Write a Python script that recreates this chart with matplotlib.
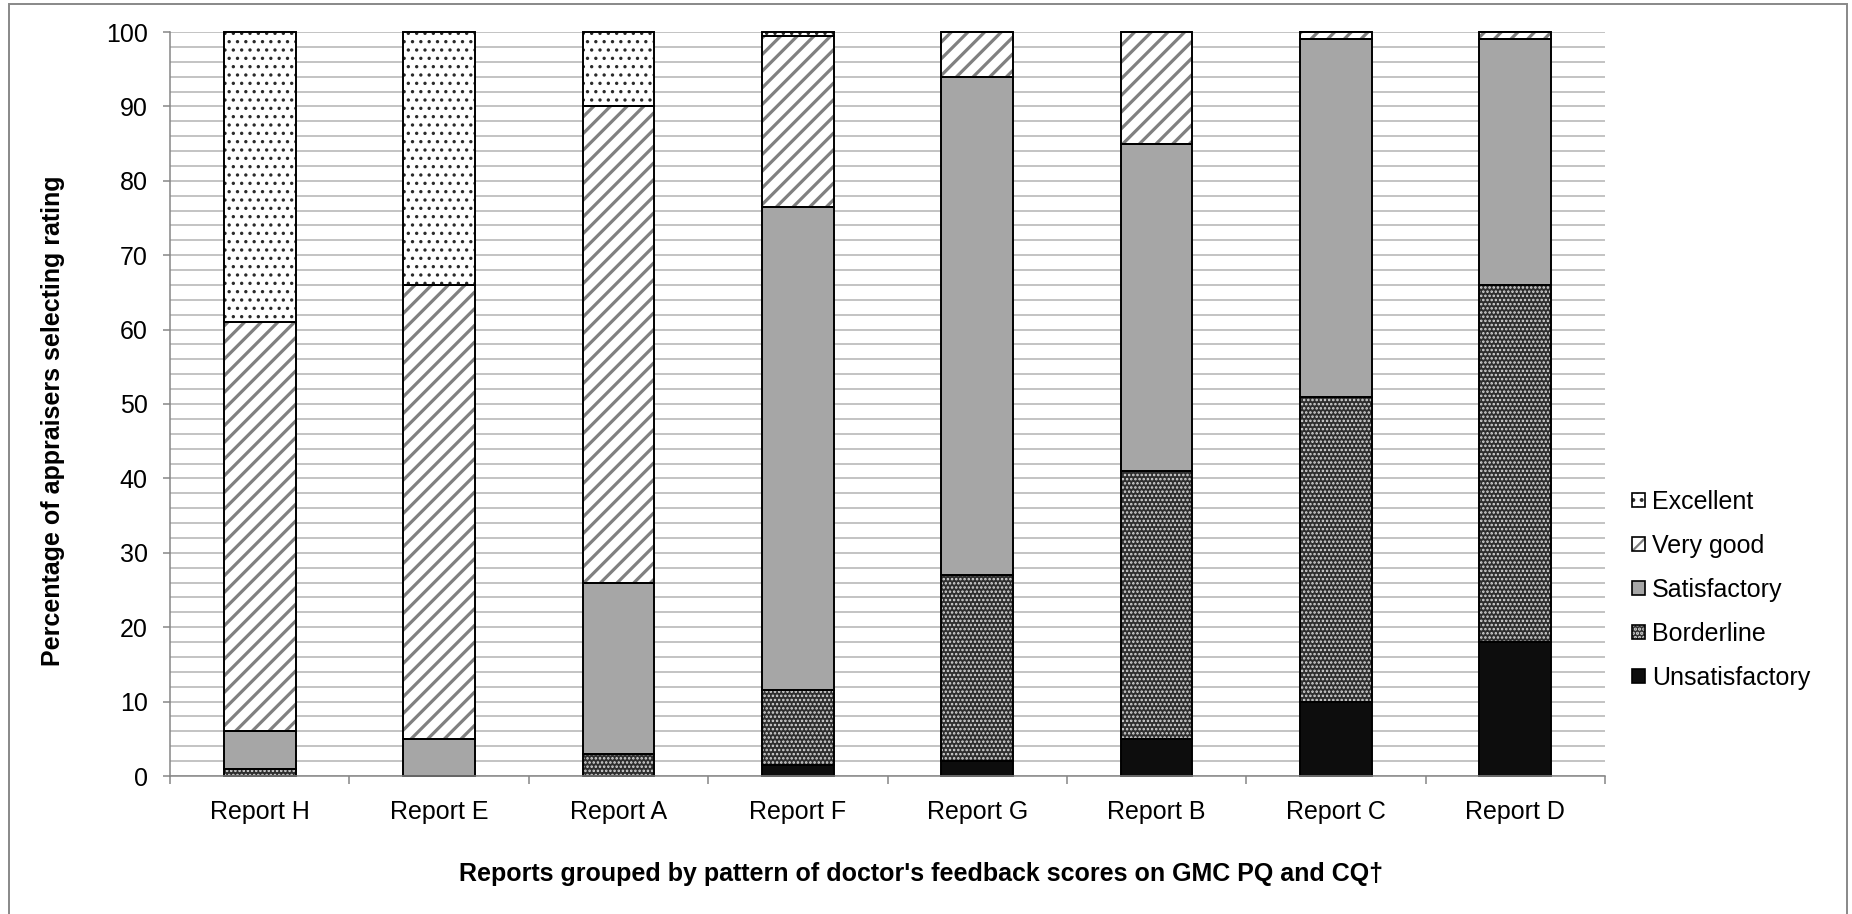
import numpy as np
import matplotlib
matplotlib.use("Agg")
import matplotlib.pyplot as plt
from matplotlib.patches import Patch, Rectangle

categories = ['Report H', 'Report E', 'Report A', 'Report F',
              'Report G', 'Report B', 'Report C', 'Report D']
unsatisfactory = [0, 0, 0, 1.5, 2, 5, 10, 18]
borderline = [1, 0, 3, 10, 25, 36, 41, 48]
satisfactory = [5, 5, 23, 65, 67, 44, 48, 33]
very_good = [55, 61, 64, 23, 6, 15, 1, 1]
excellent = [39, 34, 10, 0.5, 0, 0, 0, 0]
series_names = ['Unsatisfactory', 'Borderline', 'Satisfactory', 'Very good', 'Excellent']
yticks = list(range(0, 101, 10))

plt.rcParams['font.family'] = ['Liberation Sans', 'DejaVu Sans']
plt.rcParams['hatch.linewidth'] = 1.6

fig = plt.figure(figsize=(18.52, 9.14), dpi=100)
ax = fig.add_axes([170/1852, 1-776/914, (1605-170)/1852, (776-32)/914])

styles = [
    dict(face='#0d0d0d', hatch=None, hcol='#0d0d0d', hlw=1.0),
    dict(face='#2e2e2e', hatch='....', hcol='#d9d9d9', hlw=1.2),
    dict(face='#a6a6a6', hatch=None, hcol='#a6a6a6', hlw=1.0),
    dict(face='white', hatch='//', hcol='#808080', hlw=2.3),
    dict(face='white', hatch='..', hcol='#2a2a2a', hlw=1.2),
]

data = [unsatisfactory, borderline, satisfactory, very_good, excellent]
x = np.arange(len(categories))
width = 0.4
bottom = np.zeros(len(categories))
handles = []
for vals, st, name in zip(data, styles, series_names):
    vals = np.array(vals, dtype=float)
    with plt.rc_context({'hatch.linewidth': st['hlw']}):
        bars = ax.bar(x, vals, width, bottom=bottom, color=st['face'], edgecolor=st['hcol'],
                      hatch=st['hatch'], linewidth=0, zorder=2, clip_on=False)
        h1 = Patch(facecolor=st['face'], edgecolor=st['hcol'], hatch=st['hatch'], linewidth=0)
    for p in list(bars) + [h1]:
        if hasattr(p, 'set_hatch_linewidth'):
            p.set_hatch_linewidth(st['hlw'])
    ax.bar(x, vals, width, bottom=bottom, fill=False, edgecolor='black',
           linewidth=1.4, zorder=3, clip_on=False)
    bottom += vals
    h2 = Patch(fill=False, edgecolor='black', linewidth=1.2)
    handles.append(((h1, h2), name))

ax.set_xlim(-0.5, len(categories) - 0.5)
ax.set_ylim(0, 100)
ax.set_yticks(yticks)
ax.set_yticks(np.arange(0, 101, 2), minor=True)
ax.set_xticks(x)
ax.set_xticklabels(categories, fontsize=18)
ax.set_xticks(np.arange(-0.5, len(categories), 1.0), minor=True)
ax.tick_params(axis='x', which='major', length=0, pad=17)
ax.tick_params(axis='x', which='minor', length=6, width=1.1, color='#868686')
ax.tick_params(axis='y', which='major', length=5, width=1.1, color='#868686',
               labelsize=18, pad=11)
ax.tick_params(axis='y', which='minor', length=0)
ax.yaxis.grid(True, which='both', color='#b3b3b3', linewidth=1.1)
ax.set_axisbelow(True)
for s in ['top', 'right']:
    ax.spines[s].set_visible(False)
for s in ['left', 'bottom']:
    ax.spines[s].set_color('#868686')
    ax.spines[s].set_linewidth(1.1)
    ax.spines[s].set_zorder(4)

label_font = ['Liberation Sans', 'DejaVu Sans']
fig.text(921/1852, 1-874/914,
         "Reports grouped by pattern of doctor's feedback scores on GMC PQ and CQ\u2020",
         ha='center', va='center', fontsize=18, fontweight='bold', family=label_font)
fig.text(53/1852, 1-421/914, 'Percentage of appraisers selecting rating',
         ha='center', va='center', rotation=90, fontsize=18, fontweight='bold',
         family=label_font)

rev = handles[::-1]
fig.legend([h for h, _ in rev], [n for _, n in rev], loc='center left',
           bbox_to_anchor=(1632/1852, 1-590/914), frameon=False, fontsize=18,
           handlelength=0.52, handleheight=0.52, handletextpad=0.28,
           labelspacing=0.8, borderpad=0, borderaxespad=0)

fig.add_artist(Rectangle((8.5/1852, -0.02), (1847-8.5)/1852, 1.02 - 4.5/914,
                         transform=fig.transFigure, fill=False,
                         edgecolor='#888888', linewidth=1.4))

fig.savefig('out.png', dpi=100)
